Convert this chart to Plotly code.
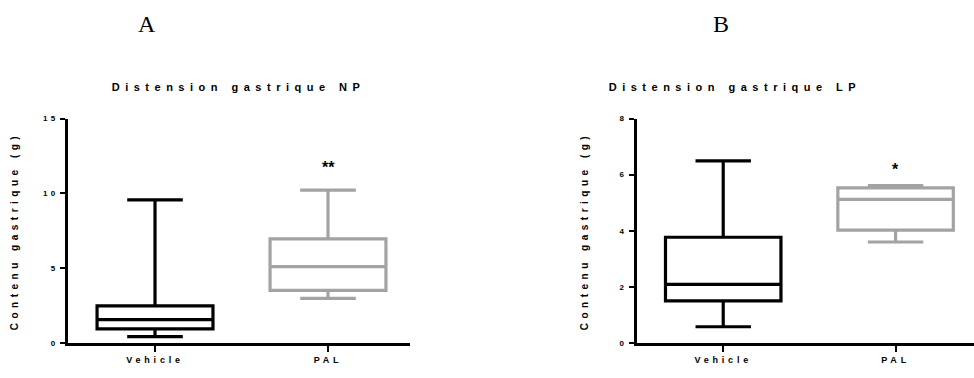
import plotly.graph_objects as go

# ---- data ----
groups = ["Vehicle", "PAL"]

np_q1 = [0.95, 3.52]
np_median = [1.56, 5.11]
np_q3 = [2.48, 6.96]
np_low = [0.43, 2.98]
np_high = [9.56, 10.21]

lp_q1 = [1.50, 4.02]
lp_median = [2.09, 5.12]
lp_q3 = [3.77, 5.53]
lp_low = [0.58, 3.60]
lp_high = [6.49, 5.61]

np_sig = ["", "**"]
np_sig_y = [None, 11.75]
lp_sig = ["", "*"]
lp_sig_y = [None, 6.17]

np_yticks = [0, 5, 10, 15]
lp_yticks = [0, 2, 4, 6, 8]

titles = ["Distension gastrique NP", "Distension gastrique LP"]
panel_letters = ["A", "B"]
ylabel = "Contenu gastrique (g)"

colors = ["#000000", "#a3a3a3"]

fig = go.Figure()

FONT = "Liberation Sans, Arial, sans-serif"


def add_boxes(q1, med, q3, lo, hi, xa, ya):
    for i, g in enumerate(groups):
        fig.add_trace(go.Box(
            x=[g], q1=[q1[i]], median=[med[i]], q3=[q3[i]],
            lowerfence=[lo[i]], upperfence=[hi[i]],
            width=0.67, whiskerwidth=0.48,
            line=dict(color=colors[i], width=3.2),
            fillcolor="white", boxpoints=False,
            xaxis=xa, yaxis=ya, showlegend=False, hoverinfo="skip",
        ))


add_boxes(np_q1, np_median, np_q3, np_low, np_high, "x", "y")
add_boxes(lp_q1, lp_median, lp_q3, lp_low, lp_high, "x2", "y2")

ydom = [30.7 / 378, 260.7 / 378]

xcommon = dict(
    type="category", categoryorder="array", categoryarray=groups,
    showline=True, linecolor="black", linewidth=2.6,
    ticks="outside", ticklen=6, tickwidth=2.2, tickcolor="black",
    tickfont=dict(family=FONT, size=9, color="black", weight="bold"),
    showgrid=False, zeroline=False, fixedrange=True,
)
ycommon = dict(
    showline=True, linecolor="black", linewidth=2.6,
    ticks="outside", ticklen=5, tickwidth=2.2, tickcolor="black",
    tickfont=dict(family=FONT, size=8, color="black", weight="bold"),
    showgrid=False, zeroline=False, fixedrange=True, domain=ydom,
)

fig.update_layout(
    width=974, height=378,
    margin=dict(l=0, r=0, t=0, b=0),
    paper_bgcolor="white", plot_bgcolor="white",
    xaxis=dict(xcommon, domain=[68 / 974, 410 / 974], range=[-0.503, 1.474], anchor="y"),
    yaxis=dict(ycommon, range=[0, 15], tickvals=np_yticks, anchor="x"),
    xaxis2=dict(xcommon, domain=[636.7 / 974, 1.0], range=[-0.502, 1.455], anchor="y2"),
    yaxis2=dict(ycommon, range=[0, 8], tickvals=lp_yticks, anchor="x2"),
)

ann = []
for xa, ya, sig, sy in [("x", "y", np_sig, np_sig_y), ("x2", "y2", lp_sig, lp_sig_y)]:
    for g, s, yv in zip(groups, sig, sy):
        if s:
            ann.append(dict(x=g, y=yv, xref=xa, yref=ya, text=s, showarrow=False,
                            xanchor="center", yanchor="middle",
                            font=dict(family=FONT, size=16, color="black", weight="bold")))
for t, cx in zip(titles, [238, 735]):
    ann.append(dict(x=cx / 974, y=(378 - 85) / 378, xref="paper", yref="paper", text=t,
                    showarrow=False, xanchor="center", yanchor="middle",
                    font=dict(family=FONT, size=11, color="black", weight="bold")))
for cx in [15, 585]:
    ann.append(dict(x=cx / 974, y=(378 - 232.5) / 378, xref="paper", yref="paper", text=ylabel,
                    showarrow=False, xanchor="center", yanchor="middle", textangle=-90,
                    font=dict(family=FONT, size=10, color="black", weight="bold")))
for t, cx in zip(panel_letters, [147, 721]):
    ann.append(dict(x=cx / 974, y=(378 - 20) / 378, xref="paper", yref="paper", text=t,
                    showarrow=False, xanchor="center", yanchor="middle",
                    font=dict(family="Liberation Serif, Times New Roman, serif", size=24, color="black")))
fig.update_layout(annotations=ann)

post = """
document.body.style.margin = '0';
var gd = document.getElementById('{plot_id}');
function sp(){
  gd.querySelectorAll('text').forEach(function(t){
    var ff = t.style.fontFamily || '';
    var fs = parseFloat(t.style.fontSize || '0');
    if (ff.indexOf('Serif') < 0 && t.textContent.indexOf('*') < 0) {
      t.style.letterSpacing = (fs >= 11 ? '0.5em' : (fs >= 10 ? '0.45em' : '0.42em'));
    }
  });
}
sp();
gd.on('plotly_afterplot', sp);
"""

fig.write_html("out.html", post_script=post, config={"displayModeBar": False})
